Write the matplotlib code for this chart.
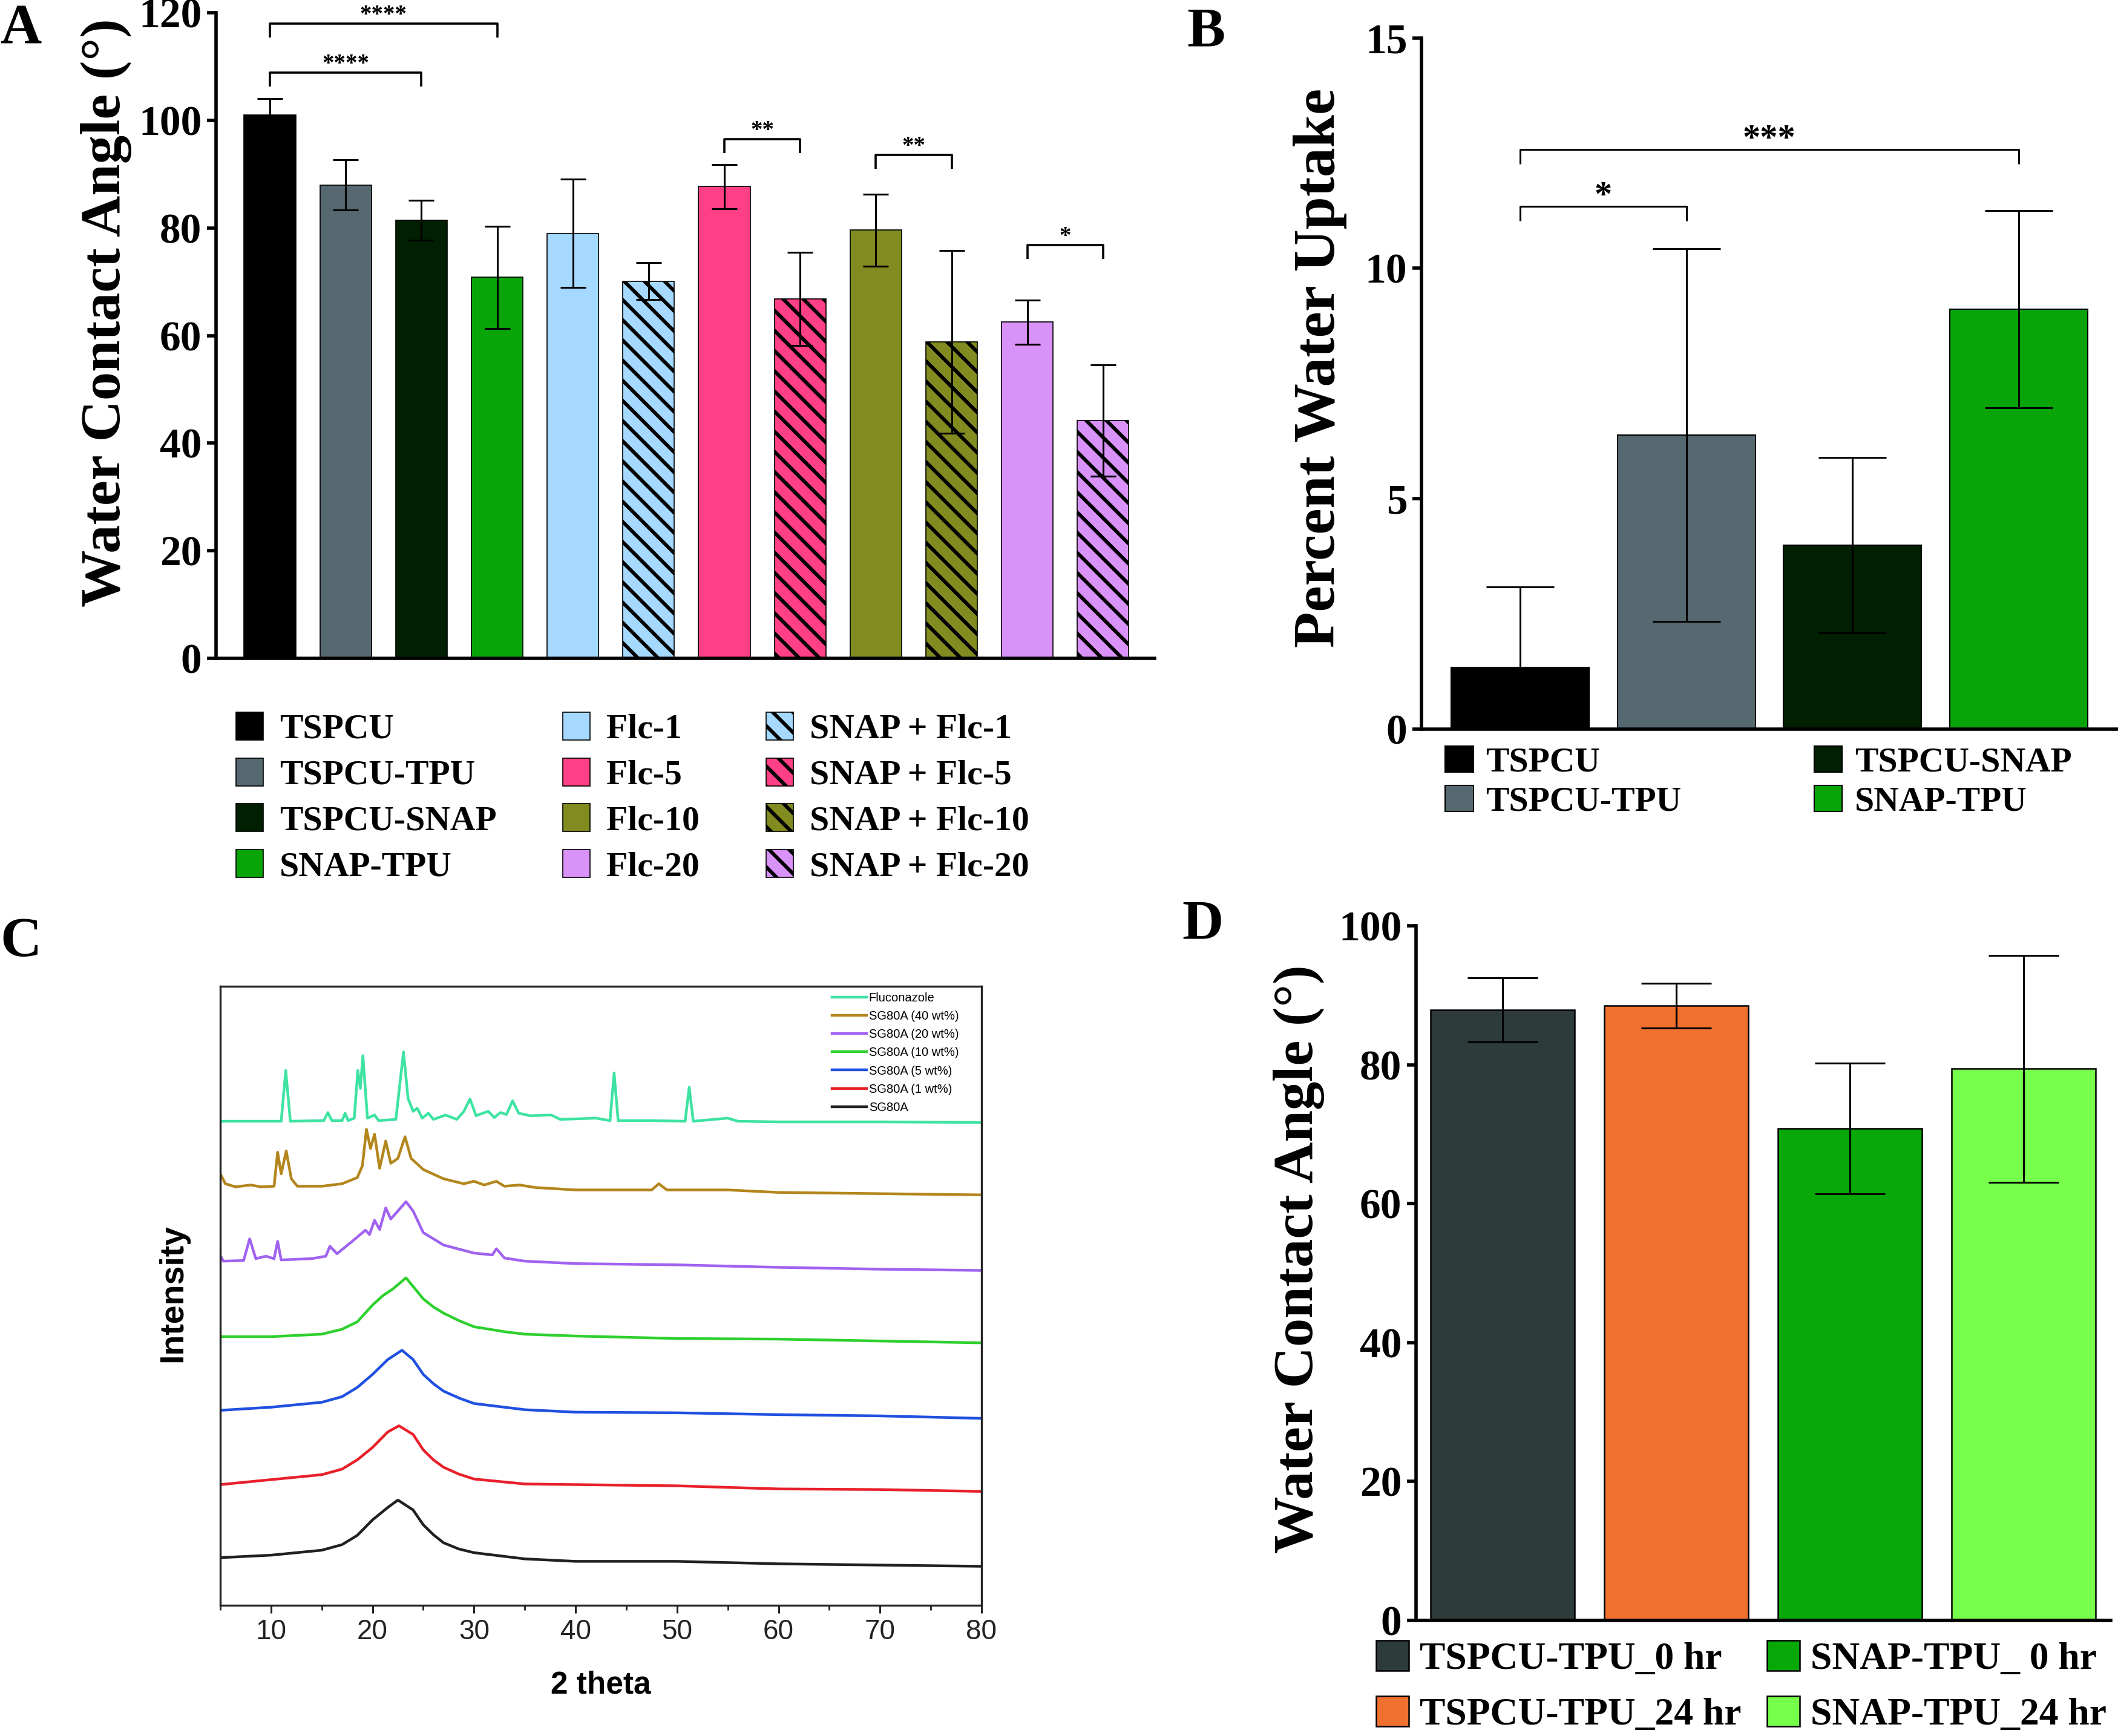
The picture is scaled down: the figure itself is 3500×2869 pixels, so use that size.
import numpy as np
import matplotlib
matplotlib.use('Agg')
import matplotlib.pyplot as plt
from matplotlib.ticker import MultipleLocator

W, H = 3500, 2869

# ---- panel A : water contact angle
a_names = ['TSPCU', 'TSPCU-TPU', 'TSPCU-SNAP', 'SNAP-TPU', 'Flc-1', 'SNAP + Flc-1',
           'Flc-5', 'SNAP + Flc-5', 'Flc-10', 'SNAP + Flc-10', 'Flc-20', 'SNAP + Flc-20']
a_vals = [101.0, 88.0, 81.4, 70.8, 79.0, 70.1, 87.7, 66.8, 79.6, 58.8, 62.5, 44.2]
a_errs = [3.0, 4.7, 3.7, 9.5, 10.1, 3.4, 4.1, 8.7, 6.7, 17.0, 4.1, 10.4]
a_colors = ['#000000', '#566870', '#012001', '#08a408', '#a6d9ff', '#a6d9ff',
            '#ff3f86', '#ff3f86', '#828b20', '#828b20', '#d992f8', '#d992f8']
a_hatched = [False, False, False, False, False, True, False, True, False, True, False, True]
a_legend_order = [0, 1, 2, 3, 4, 6, 8, 10, 5, 7, 9, 11]
a_sig_pairs = [(0, 3), (0, 2), (6, 7), (8, 9), (10, 11)]
a_sig_y = [118.0, 108.9, 96.5, 93.6, 76.8]
a_sig_text = ['****', '****', '**', '**', '*']

# ---- panel B : percent water uptake
b_names = ['TSPCU', 'TSPCU-TPU', 'TSPCU-SNAP', 'SNAP-TPU']
b_vals = [1.34, 6.38, 3.99, 9.11]
b_errs = [1.74, 4.04, 1.90, 2.14]
b_colors = ['#000000', '#566870', '#012001', '#08a408']
b_sig_pairs = [(0, 1), (0, 3)]
b_sig_y = [11.35, 12.58]
b_sig_text = ['*', '***']

# ---- panel C : XRD patterns
c_labels = ['Fluconazole', 'SG80A (40 wt%)', 'SG80A (20 wt%)', 'SG80A (10 wt%)',
            'SG80A (5 wt%)', 'SG80A (1 wt%)', 'SG80A']
c_colors = ['#3ee3a2', '#b3861c', '#a062f0', '#2ed02e', '#2050e0', '#e8202a', '#202020']

flu_x = [5, 10, 11.0, 11.45, 11.9, 15.2, 15.6, 16.0, 17.0, 17.3, 17.6, 18.2, 18.55, 18.8,
         19.05, 19.5, 20.2, 20.6, 22.3, 23.05, 23.5, 24.0, 24.4, 24.9, 25.5, 26.0, 27.2,
         28.3, 29.0, 29.6, 30.2, 31.4, 32.0, 32.6, 33.2, 33.8, 34.4, 35.5, 37.6, 38.5,
         42.0, 43.4, 43.8, 44.2, 47.5, 50.8, 51.2, 51.6, 55.0, 56.0, 60.0, 70.0, 80.0]
flu_y = [78.2, 78.2, 78.2, 86.4, 78.2, 78.3, 79.6, 78.3, 78.3, 79.5, 78.3, 78.7, 86.4, 83.5,
         88.8, 78.7, 79.2, 78.3, 78.5, 89.4, 81.9, 79.8, 80.3, 78.7, 79.5, 78.5, 79.2,
         78.5, 79.8, 81.8, 79.1, 79.8, 78.8, 79.6, 79.3, 81.5, 79.5, 79.1, 79.2, 78.5,
         78.7, 78.3, 86.0, 78.3, 78.3, 78.2, 83.7, 78.2, 78.7, 78.2, 78.1, 78.1, 78.0]

w40_x = [5, 5.5, 6.5, 8, 9, 10.3, 10.65, 11.0, 11.5, 12.0, 12.6, 15, 17, 18.5, 19.0, 19.4,
         19.8, 20.2, 20.7, 21.3, 21.8, 22.5, 23.2, 23.8, 25, 27, 29, 30, 31, 32.2, 33,
         34.5, 36, 40, 47.5, 48.2, 49, 55, 60, 70, 80]
w40_y = [69.7, 68.1, 67.6, 67.9, 67.6, 67.7, 73.2, 69.7, 73.4, 68.9, 67.7, 67.7, 68.1, 69.1,
         71.0, 76.9, 73.8, 76.1, 70.6, 75.0, 71.4, 72.2, 75.7, 72.2, 70.4, 68.9, 68.1,
         68.5, 67.9, 68.5, 67.7, 67.9, 67.5, 67.1, 67.1, 68.1, 67.1, 67.1, 66.7, 66.5, 66.3]

w20_x = [5, 5.3, 7.3, 7.9, 8.5, 9.5, 10.3, 10.65, 11.0, 14, 15.4, 15.8, 16.5, 18, 19.3,
         19.7, 20.2, 20.7, 21.3, 21.8, 23.3, 24.0, 25.0, 27, 30, 31.8, 32.2, 33, 35, 40,
         50, 60, 70, 80]
w20_y = [56.5, 55.6, 55.7, 59.2, 56.0, 56.4, 56.0, 58.8, 55.8, 56.0, 56.4, 58.0, 56.8, 58.8,
         60.6, 59.9, 62.2, 60.7, 64.2, 62.4, 65.2, 63.7, 60.2, 58.2, 56.9, 56.6, 57.6,
         56.1, 55.6, 55.2, 55.0, 54.6, 54.3, 54.1]

w10_x = [5, 10, 15, 17, 18.5, 20, 21, 22, 23.3, 24, 25, 26, 27, 28.5, 30, 33, 35, 40, 50,
         60, 70, 80]
w10_y = [43.4, 43.4, 43.8, 44.6, 45.8, 48.5, 50.0, 51.1, 52.9, 51.5, 49.5, 48.2, 47.2, 46.0,
         45.0, 44.2, 43.8, 43.5, 43.1, 43.0, 42.7, 42.4]

w5_x = [5, 10, 15, 17, 18.5, 20, 21.5, 22.9, 24, 25, 26, 27, 28.5, 30, 35, 40, 50, 60,
        70, 80]
w5_y = [31.5, 32.0, 32.8, 33.7, 35.2, 37.3, 39.7, 41.2, 39.7, 37.3, 35.8, 34.6, 33.5, 32.6,
        31.6, 31.2, 31.1, 30.8, 30.6, 30.2]

w1_x = [5, 10, 15, 17, 18.5, 20, 21.5, 22.6, 24, 25, 26, 27, 28.5, 30, 35, 40, 50, 60,
        70, 80]
w1_y = [19.5, 20.3, 21.1, 22.0, 23.5, 25.5, 28.0, 29.0, 27.6, 25.1, 23.5, 22.3, 21.2, 20.4,
        19.6, 19.5, 19.3, 18.8, 18.7, 18.4]

w0_x = [5, 10, 15, 17, 18.5, 20, 21.5, 22.5, 24, 25, 26, 27, 28.5, 30, 35, 40, 50, 60,
        70, 80]
w0_y = [7.7, 8.1, 8.9, 9.8, 11.3, 13.8, 15.8, 17.0, 15.4, 13.0, 11.4, 10.1, 9.1, 8.5, 7.5,
        7.1, 7.1, 6.7, 6.5, 6.3]

# ---- panel D : contact angle after 24 hr
d_names = ['TSPCU-TPU_0 hr', 'TSPCU-TPU_24 hr', 'SNAP-TPU_ 0 hr', 'SNAP-TPU_24 hr']
d_vals = [87.9, 88.5, 70.8, 79.4]
d_errs = [4.6, 3.2, 9.4, 16.3]
d_colors = ['#2e3b3b', '#f0702f', '#08a808', '#76ff4b']

serif = 'Liberation Serif'
sans = 'Liberation Sans'
plt.rcParams['font.family'] = serif
plt.rcParams['font.weight'] = 'bold'
plt.rcParams['hatch.linewidth'] = 4.3

fig = plt.figure(figsize=(W / 100, H / 100), dpi=100)


def box(l, t, r, b):
    return [l / W, 1 - b / H, (r - l) / W, (b - t) / H]


def style_bar_axes(ax):
    for s in ['top', 'right']:
        ax.spines[s].set_visible(False)
    for s in ['left', 'bottom']:
        ax.spines[s].set_linewidth(4)
    ax.tick_params(axis='y', length=11, width=4, labelsize=50, pad=6)
    ax.tick_params(axis='x', bottom=False, labelbottom=False)
    for t in ax.get_yticklabels():
        t.set_fontweight('bold')


def bracket(ax, x1, x2, y, drop, text, fs, off, lw):
    ax.plot([x1, x1, x2, x2], [y - drop, y, y, y - drop], color='black', lw=lw,
            clip_on=False, solid_capstyle='butt')
    ax.annotate(text, xy=((x1 + x2) / 2, y), xytext=(0, off), textcoords='offset points',
                ha='center', va='baseline', fontsize=fs, fontweight='bold',
                annotation_clip=False)


# ================= A
axA = fig.add_axes(box(357, 21, 1908, 1088))
xa = np.arange(len(a_vals))
for i in range(len(a_vals)):
    axA.bar(xa[i], a_vals[i], width=0.68, color=a_colors[i], edgecolor='black',
            linewidth=1.2, hatch='\\' if a_hatched[i] else None, label=a_names[i])
axA.errorbar(xa, a_vals, yerr=a_errs, fmt='none', ecolor='black', elinewidth=2.2,
             capsize=15, capthick=2.2)
axA.set_xlim(-0.711, 11.68)
axA.set_ylim(0, 120)
axA.set_yticks(np.arange(0, 121, 20))
style_bar_axes(axA)
axA.set_ylabel('Water Contact Angle (°)', fontsize=68, fontweight='bold')
axA.yaxis.set_label_coords(-0.0896, 0.535)
for (p, q), y, s in zip(a_sig_pairs, a_sig_y, a_sig_text):
    bracket(axA, p, q, y, 2.6, s, 28, 3, 2.6)
hA, lA = axA.get_legend_handles_labels()
axA.legend([hA[k] for k in a_legend_order], [lA[k] for k in a_legend_order], ncol=3,
           loc='upper left', bbox_to_anchor=(0.0213, -0.0834),
           frameon=False, borderpad=0, borderaxespad=0, handlelength=0.78,
           handleheight=0.85, handletextpad=0.47, columnspacing=1.9, labelspacing=0.36,
           prop={'family': serif, 'weight': 'bold', 'size': 41.5})

# ================= B
axB = fig.add_axes(box(2349, 62.5, 3500, 1205))
xb = np.arange(len(b_vals))
axB.bar(xb, b_vals, width=0.83, color=b_colors, edgecolor='black', linewidth=1.5,
        label=b_names)
axB.errorbar(xb, b_vals, yerr=b_errs, fmt='none', ecolor='black', elinewidth=2.2,
             capsize=40, capthick=2.2)
axB.set_xlim(-0.593, 3.597)
axB.set_ylim(0, 15)
axB.set_yticks([0, 5, 10, 15])
style_bar_axes(axB)
axB.set_ylabel('Percent Water Uptake', fontsize=70, fontweight='bold')
axB.yaxis.set_label_coords(-0.107, 0.523)
for (p, q), y, s in zip(b_sig_pairs, b_sig_y, b_sig_text):
    bracket(axB, p, q, y, 0.32, s, 42, 1, 2.2)
hB, lB = axB.get_legend_handles_labels()
axB.legend(hB, lB, ncol=2, loc='upper left', bbox_to_anchor=(0.0339, -0.0245),
           frameon=False, borderpad=0, borderaxespad=0, handlelength=0.81,
           handleheight=0.78, handletextpad=0.36, columnspacing=3.8, labelspacing=0.19,
           prop={'family': serif, 'weight': 'bold', 'size': 41.5})

# ================= C
axC = fig.add_axes(box(364, 1630, 1622, 2653))
c_x = [flu_x, w40_x, w20_x, w10_x, w5_x, w1_x, w0_x]
c_y = [flu_y, w40_y, w20_y, w10_y, w5_y, w1_y, w0_y]
for xs, ys, col, lab in zip(c_x, c_y, c_colors, c_labels):
    axC.plot(xs, ys, color=col, lw=3.2, label=lab)
axC.set_xlim(5, 80)
axC.set_ylim(0, 100)
axC.set_xticks(np.arange(10, 81, 10))
axC.xaxis.set_minor_locator(MultipleLocator(5))
axC.set_yticks([])
for s in axC.spines.values():
    s.set_linewidth(2.4)
    s.set_color('#222222')
axC.tick_params(axis='x', which='major', length=9, width=2.2, labelsize=33, pad=7,
                colors='#222222')
axC.tick_params(axis='x', which='minor', length=6, width=2.0, colors='#222222')
for t in axC.get_xticklabels():
    t.set_family(sans)
    t.set_fontweight('normal')
axC.set_xlabel('2 theta', family=sans, fontweight='bold', fontsize=37)
axC.xaxis.set_label_coords(0.5, -0.105)
axC.set_ylabel('Intensity', family=sans, fontweight='bold', fontsize=40)
axC.yaxis.set_label_coords(-0.041, 0.504)
axC.legend(loc='upper left', bbox_to_anchor=(0.804, 0.990), frameon=False, borderpad=0,
           borderaxespad=0, handlelength=2.8, handletextpad=0.2, labelspacing=0.55,
           prop={'family': sans, 'weight': 'normal', 'size': 14.5})

# ================= D
axD = fig.add_axes(box(2340, 1530, 3488, 2678))
xd = np.arange(len(d_vals))
axD.bar(xd, d_vals, width=0.83, color=d_colors, edgecolor='black', linewidth=1.8,
        label=d_names)
axD.errorbar(xd, d_vals, yerr=d_errs, fmt='none', ecolor='black', elinewidth=2.2,
             capsize=42, capthick=2.2)
axD.set_xlim(-0.498, 3.502)
axD.set_ylim(0, 100)
axD.set_yticks(np.arange(0, 101, 20))
style_bar_axes(axD)
axD.set_ylabel('Water Contact Angle (°)', fontsize=68, fontweight='bold')
axD.yaxis.set_label_coords(-0.1315, 0.52)
hD, lD = axD.get_legend_handles_labels()
axD.legend(hD, lD, ncol=2, loc='upper left', bbox_to_anchor=(-0.0575, -0.0287),
           frameon=False, borderpad=0, borderaxespad=0, handlelength=0.85,
           handleheight=0.83, handletextpad=0.28, columnspacing=0.68, labelspacing=0.49,
           prop={'family': serif, 'weight': 'bold', 'size': 45.7})

# panel letters
for letter, xl, yb in [('A', 0, 71), ('B', 1961, 76), ('C', 0, 1580), ('D', 1953, 1551)]:
    fig.text(xl / W, 1 - yb / H, letter, fontsize=68, fontweight='bold', family=serif,
             ha='left', va='baseline')

fig.savefig('out.png', dpi=100)
